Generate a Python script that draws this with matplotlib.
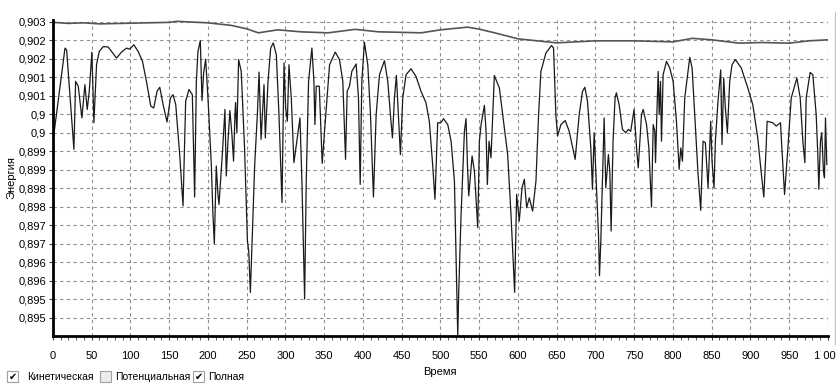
import matplotlib
matplotlib.use("Agg")
import matplotlib.pyplot as plt
from matplotlib import font_manager
from matplotlib.ticker import MultipleLocator
from matplotlib.patches import Rectangle
from matplotlib.lines import Line2D

names = {f.name for f in font_manager.fontManager.ttflist}
narrow = 'Liberation Sans Narrow' if 'Liberation Sans Narrow' in names else 'Liberation Sans'
plt.rcParams['font.family'] = [narrow, 'DejaVu Sans']

# --- data ---
# kinetic energy (the jumpy curve)
t_kin = [0, 15.5, 17.6, 27.0, 29.2, 32.6, 37.3, 41.2, 44.2, 46.8, 50.2, 52.8, 56.2, 59.7,
         64.8, 71.2, 82.0, 88.4, 94.8, 99.1, 104.3, 109.9, 115.5, 120.6, 126.2, 130.0,
         134.3, 137.8, 142.1, 147.2, 151.5, 154.9, 158.4, 163.5, 167.8, 171.2, 175.5,
         179.8, 182.8, 185.0, 187.1, 190.1, 192.3, 194.4, 197.0, 200.0, 204.3, 206.4,
         208.2, 210.7, 212.9, 214.2, 218.5, 220.2, 221.9, 223.6, 225.8, 228.3, 230.9,
         233.0, 234.8, 235.6, 237.3, 239.5, 242.9, 247.2,
         250.9, 252.6, 254.7, 256.9, 260.3, 263.7, 265.9, 268.5, 272.3, 274.0, 277.5,
         280.9, 284.3, 288.2, 291.6, 295.5, 298.1, 300.2, 302.4, 304.5, 307.5, 310.9,
         315.2, 318.7, 321.2, 324.7, 326.8, 329.8, 334.1, 336.7, 338.0, 339.7, 343.6,
         345.3, 347.4, 350.4, 356.9, 364.2, 369.7, 374.0, 377.5, 379.6, 382.6, 385.6,
         391.2, 394.2, 396.4, 398.5, 401.9, 406.2, 409.7, 413.5, 417.0, 421.3, 427.7,
         432.0, 435.4, 438.0, 440.6, 443.1, 445.7, 448.3, 451.3, 455.6, 462.0, 468.5,
         474.9, 481.3, 485.6, 489.9, 492.9, 496.4, 500.6,
         503.9, 509.4, 513.7, 518.0, 521.0, 522.3, 523.6, 526.6, 530.9, 533.0, 534.8,
         536.5, 540.8, 543.8, 548.1, 550.2, 552.4, 556.7, 558.8, 560.5, 562.7, 565.2,
         569.5, 576.0, 580.3, 586.7, 591.0, 595.7, 598.3, 601.7, 605.2, 608.2, 611.2,
         614.6, 618.9, 623.2, 626.6, 629.6, 636.1, 643.3, 645.9, 648.9, 651.1, 655.4,
         661.0, 666.1, 673.8, 679.0, 683.3, 686.3, 689.7, 694.0, 696.1, 698.3, 700.4,
         703.9, 705.2, 706.9, 709.0, 711.2, 713.3, 716.7, 718.5, 720.2, 722.7, 725.3,
         727.0, 730.5, 734.8, 739.1, 742.5, 745.5, 749.8,
         753.0, 755.2, 759.4, 761.6, 765.9, 768.9, 772.3, 774.5, 776.6, 777.5, 779.2,
         780.9, 782.2, 783.9, 785.2, 787.3, 791.6, 795.9, 800.2, 804.5, 808.0, 810.1,
         812.2, 815.2, 821.7, 824.7, 828.1, 832.4, 835.8, 838.8, 841.8, 845.3, 848.7,
         850.4, 853.0, 854.7, 858.1, 861.6, 863.3, 865.5, 867.6, 870.2, 873.2, 876.2,
         880.5, 888.2, 896.6, 903.0, 909.4, 913.7, 917.2, 920.2, 921.5, 928.8, 933.2,
         938.8, 940.5, 944.0, 948.3, 952.6, 959.9, 964.2, 967.6, 970.2, 971.9, 977.0,
         980.5, 984.8, 986.9, 988.2, 990.3, 992.0, 994.2, 995.5, 996.8, 998.5]
e_kin = [0.89977, 0.90229, 0.90224, 0.89955, 0.90139, 0.90126, 0.90040, 0.90130, 0.90063,
         0.90112, 0.90218, 0.90027, 0.90184, 0.90220, 0.90233, 0.90232, 0.90202, 0.90218,
         0.90229, 0.90226, 0.90238, 0.90220, 0.90193, 0.90139, 0.90072, 0.90067, 0.90112,
         0.90123, 0.90076, 0.90029, 0.90094, 0.90103, 0.90076, 0.89941, 0.89802, 0.90085,
         0.90117, 0.90103, 0.89826, 0.90139, 0.90220, 0.90249, 0.90087, 0.90162, 0.90199,
         0.90094, 0.89914, 0.89779, 0.89700, 0.89910, 0.89833, 0.89806, 0.89941, 0.90004,
         0.90063, 0.89883, 0.89977, 0.90060, 0.89995, 0.89923, 0.90049, 0.90081, 0.90000,
         0.90198, 0.90166, 0.89959,
         0.89707, 0.89680, 0.89568, 0.89707, 0.89914, 0.90049, 0.90164, 0.89982, 0.90130,
         0.89986, 0.90139, 0.90229, 0.90243, 0.90211, 0.90049, 0.89811, 0.90189, 0.90067,
         0.90031, 0.90184, 0.90094, 0.89919, 0.89986, 0.90040, 0.89869, 0.89550, 0.89869,
         0.90139, 0.90229, 0.90139, 0.90022, 0.90126, 0.90126, 0.90031, 0.89917, 0.90004,
         0.90184, 0.90218, 0.90198, 0.90139, 0.89928, 0.90112, 0.90126, 0.90166, 0.90186,
         0.90094, 0.89860, 0.90139, 0.90245, 0.90184, 0.90049, 0.89826, 0.90049, 0.90157,
         0.90195, 0.90139, 0.90049, 0.89986, 0.90094, 0.90155, 0.90049, 0.89941, 0.90094,
         0.90157, 0.90173, 0.90152, 0.90112, 0.90081, 0.90031, 0.89914, 0.89820, 0.90027,
         0.90027,
         0.90038, 0.90022, 0.89977, 0.89869, 0.89573, 0.89451, 0.89573, 0.89779, 0.90004,
         0.90038, 0.89914, 0.89829, 0.89937, 0.89896, 0.89743, 0.89977, 0.90022, 0.90074,
         0.90004, 0.89860, 0.89977, 0.89932, 0.90155, 0.90121, 0.90049, 0.89941, 0.89779,
         0.89568, 0.89833, 0.89761, 0.89851, 0.89874, 0.89797, 0.89824, 0.89788, 0.89869,
         0.90049, 0.90166, 0.90216, 0.90236, 0.90229, 0.90049, 0.89991, 0.90022, 0.90033,
         0.90004, 0.89928, 0.90049, 0.90112, 0.90123, 0.90085, 0.89959, 0.89847, 0.90000,
         0.89896, 0.89725, 0.89613, 0.89707, 0.89869, 0.90040, 0.89851, 0.89941, 0.89896,
         0.89734, 0.89977, 0.90094, 0.90108, 0.90076, 0.90009, 0.90000, 0.90009, 0.90004,
         0.90063,
         0.89959, 0.89905, 0.90049, 0.90063, 0.90022, 0.89959, 0.89799, 0.90022, 0.90004,
         0.89919, 0.90049, 0.90166, 0.90049, 0.90139, 0.89977, 0.90157, 0.90193, 0.90175,
         0.90139, 0.90031, 0.89901, 0.89959, 0.89923, 0.90094, 0.90204, 0.90175, 0.90049,
         0.89887, 0.89790, 0.89977, 0.89973, 0.89851, 0.90031, 0.89923, 0.89851, 0.89977,
         0.90085, 0.90170, 0.89968, 0.90148, 0.90067, 0.90000, 0.90139, 0.90184, 0.90198,
         0.90175, 0.90121, 0.90076, 0.89986, 0.89896, 0.89826, 0.89959, 0.90031, 0.90027,
         0.90018, 0.90027, 0.89959, 0.89833, 0.89959, 0.90094, 0.90148, 0.90094, 0.89977,
         0.89919, 0.90094, 0.90163, 0.90157, 0.90049, 0.89941, 0.89847, 0.89977, 0.90000,
         0.89896, 0.89878, 0.90040, 0.89914]

# total energy (the flat curve near the top)
t_tot = [0, 20, 40, 60, 90, 120, 150, 160, 200, 230, 250, 265, 290, 320, 355, 390, 420,
         450, 475, 500, 535, 550, 570, 600, 650, 700, 750, 800, 825, 850, 885, 915, 950,
         975, 1000]
e_tot = [0.902986, 0.902959, 0.902973, 0.902946, 0.902959, 0.902973, 0.902986, 0.903014,
         0.902973, 0.902905, 0.902811, 0.902703, 0.902784, 0.902730, 0.902703, 0.902797,
         0.902730, 0.902716, 0.902703, 0.902784, 0.902857, 0.902803, 0.902703, 0.902541,
         0.902432, 0.902486, 0.902486, 0.902459, 0.902554, 0.902514, 0.902424, 0.902441,
         0.902424, 0.902486, 0.902514]

y_ticks = [0.895, 0.8955, 0.896, 0.8965, 0.897, 0.8975, 0.898, 0.8985, 0.899, 0.8995,
           0.900, 0.9005, 0.901, 0.9015, 0.902, 0.9025, 0.903]
y_labels = ['0,895', '0,895', '0,896', '0,896', '0,897', '0,897', '0,898', '0,898',
            '0,899', '0,899', '0,9', '0,9', '0,901', '0,901', '0,902', '0,902', '0,903']
x_ticks = list(range(0, 1001, 50))
x_labels = [str(v) if v < 1000 else '1 000' for v in x_ticks]

legend_items = ['Кинетическая', 'Потенциальная', 'Полная']
legend_checked = [True, False, True]

fig = plt.figure(figsize=(8.37, 3.87), dpi=100)
ax = fig.add_axes([0.0633, 0.1318, 0.9259, 0.8165])

ax.plot(t_tot, e_tot, color='#555555', lw=1.2)
ax.plot(t_kin, e_kin, color='#1a1a1a', lw=0.9)

ax.set_xlim(0, 1000)
ax.set_ylim(0.8945, 0.90305)
ax.set_xticks(x_ticks)
ax.set_xticklabels(x_labels)
ax.xaxis.set_minor_locator(MultipleLocator(10))
ax.set_yticks(y_ticks)
ax.set_yticklabels(y_labels)
ax.tick_params(axis='both', which='major', labelsize=8, length=3, width=0.8,
               color='#404040', pad=2)
ax.tick_params(axis='x', which='minor', length=3, width=0.6, color='#404040')
ax.tick_params(axis='x', pad=8)

ax.grid(True, which='major', color='#909090', linestyle=(0, (3, 3)), linewidth=0.8)
for s in ['top', 'right']:
    ax.spines[s].set_visible(False)
for s in ['left', 'bottom']:
    ax.spines[s].set_linewidth(2)
    ax.spines[s].set_color('black')

fig.text(0.526, 0.040, 'Время', ha='center', va='center', fontsize=8)
fig.text(0.014, 0.54, 'Энергия', ha='center', va='center', rotation=90, fontsize=8)

# right-hand panel border
fig.add_artist(Line2D([0.9976, 0.9976], [0.11, 0.97], transform=fig.transFigure,
                      color='#c8c8c8', lw=1))

# checkbox legend
box_x = [7, 100, 193]
text_x = [27, 115, 208]
for bx, tx, name, on in zip(box_x, text_x, legend_items, legend_checked):
    fig.add_artist(Rectangle((bx / 837, 0.013), 11 / 837, 11 / 387, transform=fig.transFigure,
                             fc='white' if on else '#ececec', ec='#a0a0a0', lw=0.8))
    if on:
        fig.text((bx + 5.5) / 837, 0.027, '✔', ha='center', va='center', fontsize=7,
                 family='DejaVu Sans')
    fig.text(tx / 837, 0.026, name, ha='left', va='center', fontsize=7.5)

fig.savefig('out.png', dpi=100)
